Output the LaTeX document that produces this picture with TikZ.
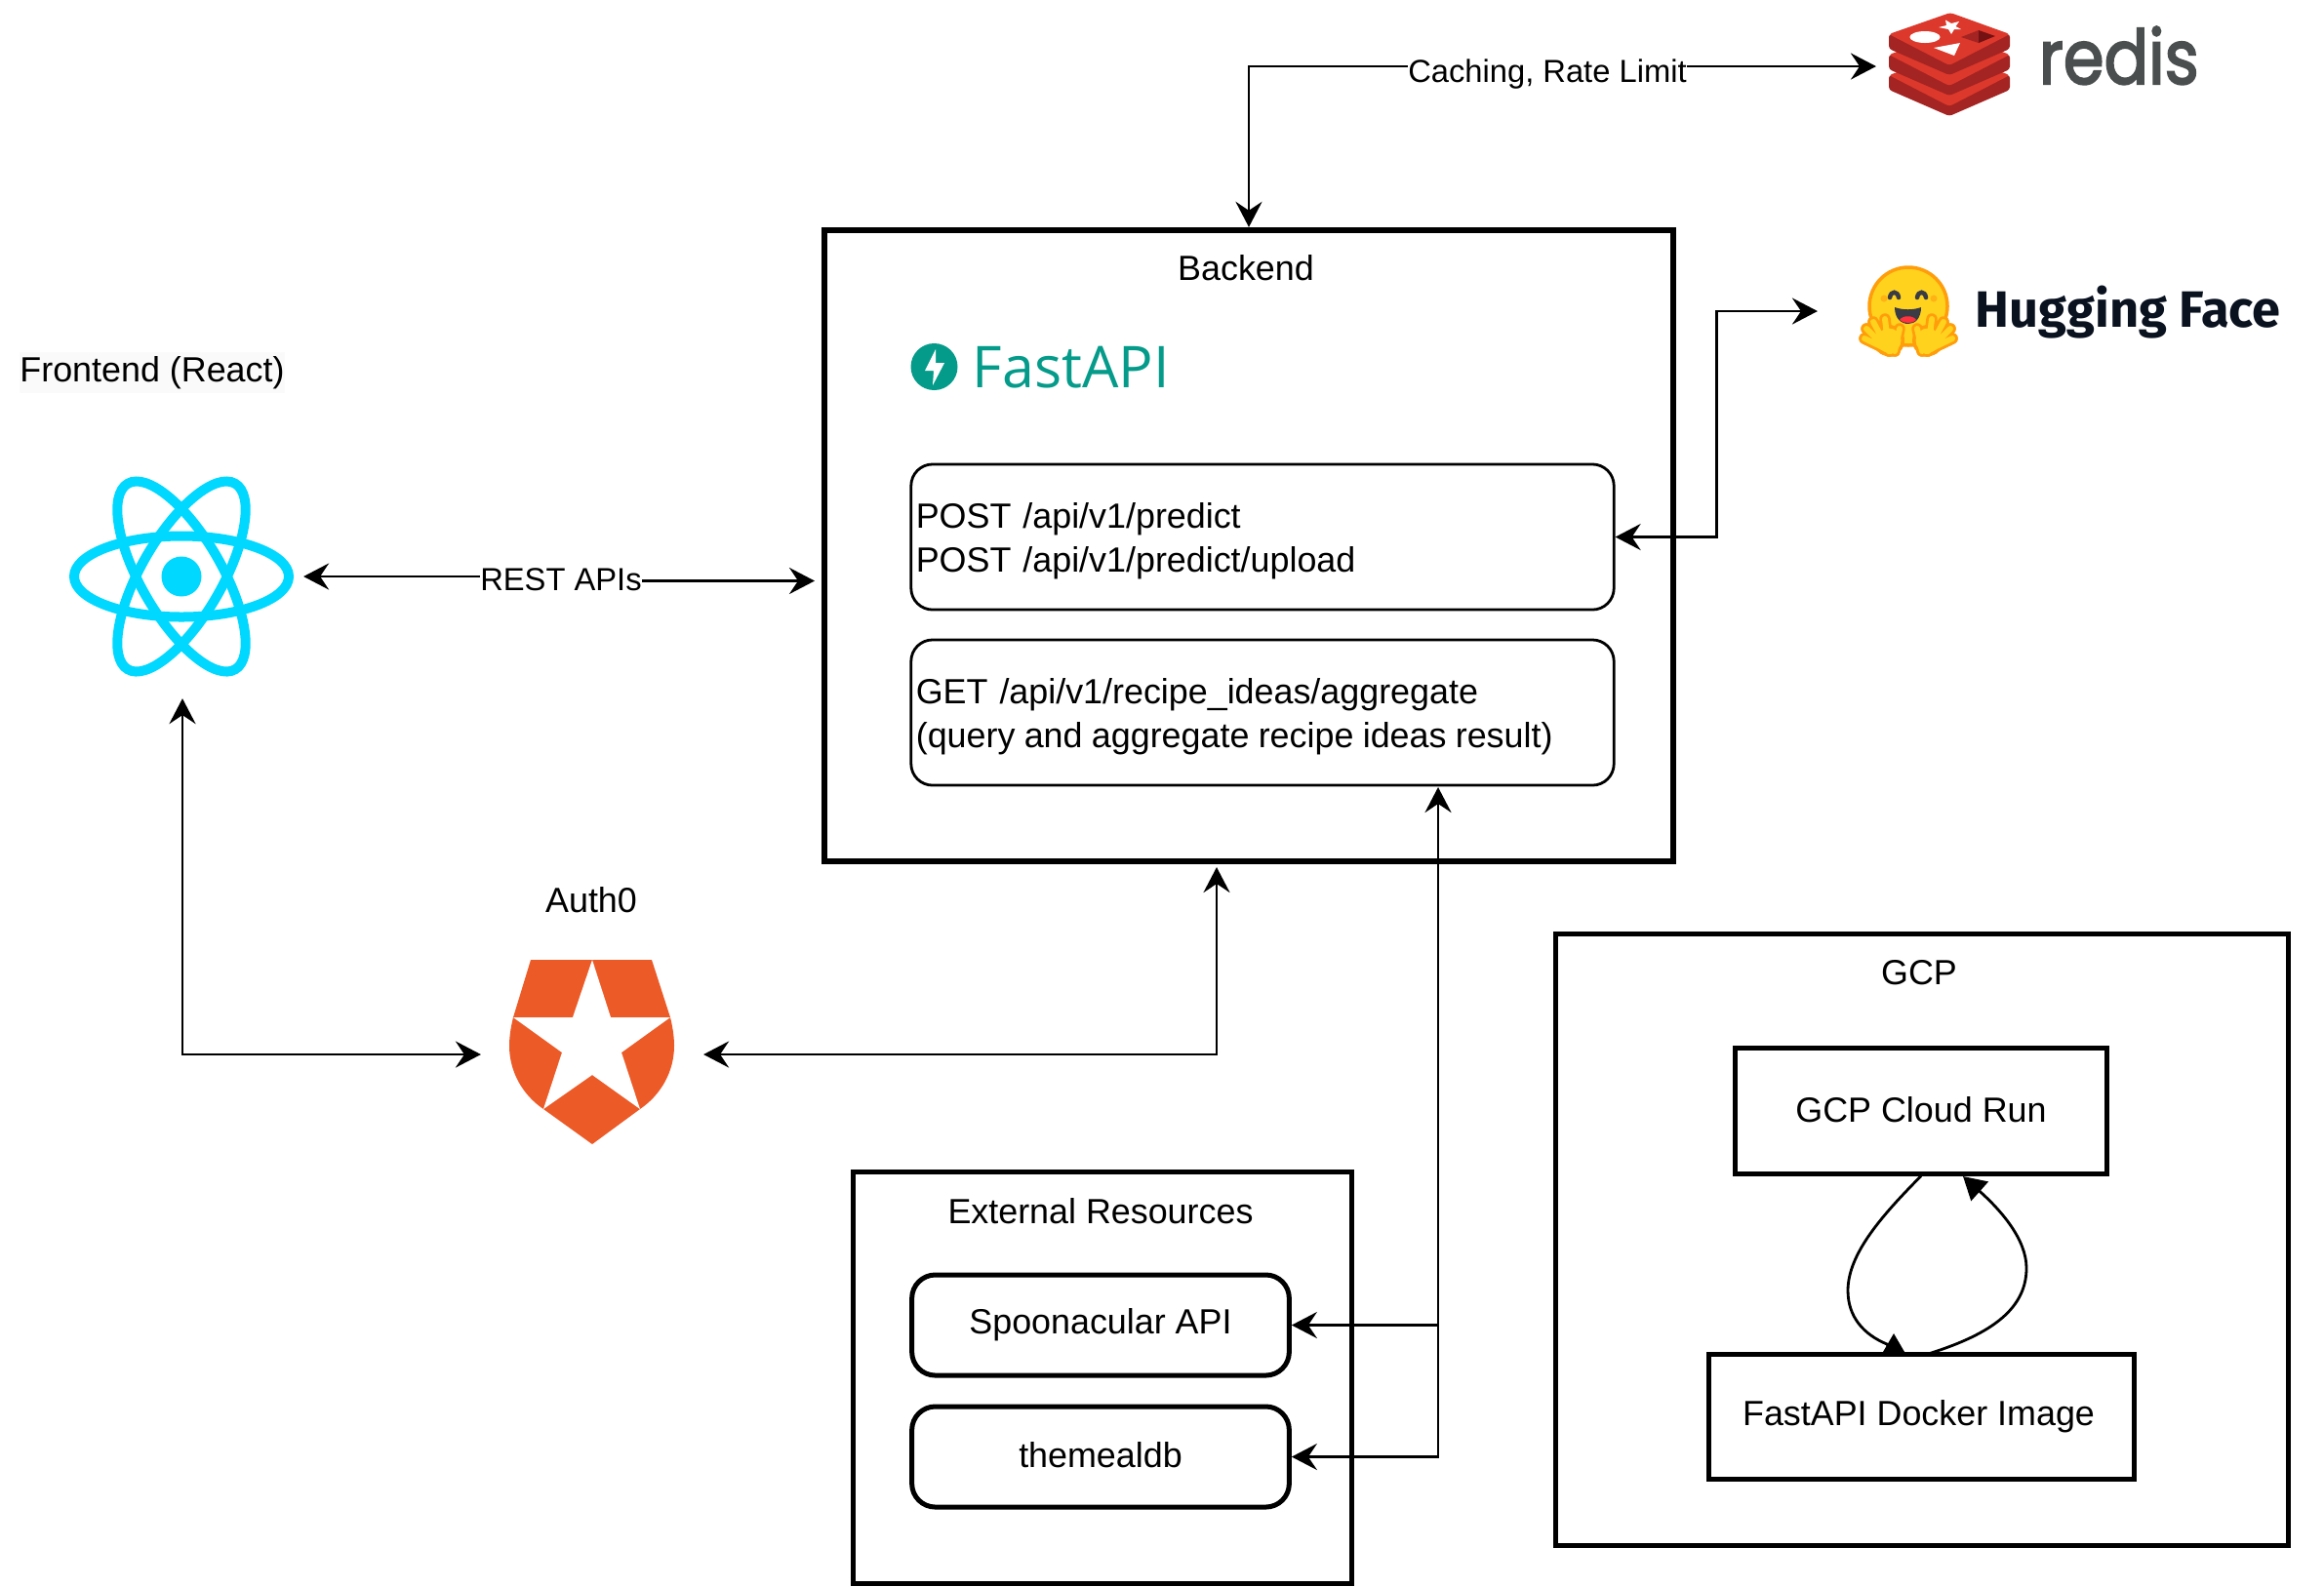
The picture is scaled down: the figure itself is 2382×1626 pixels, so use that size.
\documentclass[tikz,border=0pt]{standalone}
\usepackage{fontspec}
\setmainfont{Liberation Sans}
\newfontfamily\redisfont[FakeBold=2.6]{Poppins}
\newfontfamily\hugfont{Fira Sans}
\newfontfamily\fastfont{Open Sans}
\usetikzlibrary{arrows.meta}
\definecolor{reactcyan}{HTML}{00D8FF}
\definecolor{authorange}{HTML}{EC5A27}
\definecolor{fastteal}{HTML}{059B8A}
\definecolor{redislight}{HTML}{DC382C}
\definecolor{redisdark}{HTML}{A32422}
\definecolor{redishole}{HTML}{741113}
\definecolor{redisgrey}{HTML}{4A4E4F}
\definecolor{hugnavy}{HTML}{0A1220}
\definecolor{hugyellow}{HTML}{FFD21E}
\definecolor{hugorange}{HTML}{FF9D0B}
\definecolor{hugdark}{HTML}{3A3B45}
\definecolor{hugred}{HTML}{FF323D}
\tikzset{
    plainlabel/.style={inner sep=0pt,font=\fontsize{10.2}{12.7}\selectfont},
    linelabel/.style={inner sep=0pt,fill=white,font=\fontsize{9.3}{11}\selectfont},
    iconspot/.style={inner sep=0pt,outer sep=0pt,minimum height=10pt},
    bigbox/.style={draw=black,line width=0.06cm},
    midbox/.style={draw=black,line width=0.05cm,plainlabel},
    routebox/.style={draw=black,line width=0.028cm,rounded corners=0.22cm,plainlabel,text width=7.1cm,inner xsep=0.05cm,align=left,minimum height=1.49cm},
    sourcebox/.style={draw=black,line width=0.05cm,rounded corners=0.24cm,plainlabel,minimum width=3.865cm,minimum height=1.03cm},
    linkline/.style={line width=0.028cm,draw=black},
    bilink/.style={linkline,{Stealth[length=0.26cm,width=0.27cm,inset=0.09cm]}-{Stealth[length=0.26cm,width=0.27cm,inset=0.09cm]}},
    headlink/.style={linkline,-{Stealth[length=0.26cm,width=0.27cm,inset=0.09cm]}},
    taillink/.style={linkline,{Stealth[length=0.26cm,width=0.27cm,inset=0.09cm]}-},
    curvelink/.style={linkline,-{Triangle[length=0.23cm,width=0.26cm]}},
    redislayer/.pic={
        \fill[redisdark,rounded corners=0.03cm] (-62,-5) -- (-62,10) -- (0,37) -- (62,10) -- (62,-5) -- cycle;
        \fill[redislight,rounded corners=0.03cm] (1,-27) -- (-62,-5) -- (0,27) -- (62,-5) -- cycle;
    },
    hughand/.pic={
        \draw[hugorange,line width=0.115cm,line cap=round] (-20,20) -- (-43,-3) (-20,20) -- (-36,-10) (-20,20) -- (-24,-13) (-18,20) -- (-45,7) (-14,20) -- (-9,-3);
        \fill[hugorange] (-20,9) circle [radius=16];
        \draw[hugyellow,line width=0.06cm,line cap=round] (-20,20) -- (-43,-3) (-20,20) -- (-36,-10) (-20,20) -- (-24,-13) (-18,20) -- (-45,7) (-14,20) -- (-9,-3);
        \fill[hugyellow] (-20,9) circle [radius=12.5];
    }
}

\begin{document}
\begin{tikzpicture}[x=0.01cm,y=-0.01cm]
    \useasboundingbox (0,0) rectangle (2382,1626);

    % main boxes
    \node[bigbox,minimum width=8.7cm,minimum height=6.47cm] (backend) at (1280,559.5) {};
    \node[plainlabel] (backendname) at (1277,275) {Backend};
    \node[routebox] (predictroutes) at (1294,550.5) {\rule{0pt}{0.34cm}POST /api/v1/predict\\POST /api/v1/predict/upload};
    \node[routebox] (reciperoutes) at (1294,730.5) {\rule{0pt}{0.34cm}GET /api/v1/recipe\_ideas/aggregate\\{\spaceskip=0.26em (query and aggregate recipe ideas result)}};

    \node[bigbox,line width=0.05cm,minimum width=5.1cm,minimum height=4.21cm] (external) at (1130,1412.5) {};
    \node[plainlabel] (externalname) at (1128,1242) {External Resources};
    \node[sourcebox] (spoonacular) at (1128,1358.5) {Spoonacular API};
    \node[sourcebox] (themealdb) at (1128,1493.5) {\raisebox{0.04cm}{themealdb}};

    \node[bigbox,line width=0.05cm,minimum width=7.5cm,minimum height=6.26cm] (gcp) at (1970,1271) {};
    \node[plainlabel] (gcpname) at (1967,997.5) {GCP};
    \node[midbox,minimum width=3.8cm,minimum height=1.28cm] (cloudrun) at (1969,1139) {\raisebox{0.03cm}{GCP Cloud Run}};
    \node[midbox,minimum width=4.35cm,minimum height=1.27cm] (dockerimage) at (1969.5,1452.5) {\hspace{-0.06cm}\raisebox{-0.03cm}{FastAPI Docker Image}};

    % text beside the logos
    \node[plainlabel,fill=black!2,minimum height=0.42cm] (frontendname) at (156,382) {Frontend (React)};
    \node[plainlabel] (authname) at (606,923) {Auth0};

    % react logo
    \begin{scope}[shift={(186,591)}]
        \draw[reactcyan,line width=0.1cm] (0,0) ellipse [x radius=110,y radius=41.5];
        \draw[reactcyan,line width=0.1cm,rotate=60] (0,0) ellipse [x radius=110,y radius=41.5];
        \draw[reactcyan,line width=0.1cm,rotate=-60] (0,0) ellipse [x radius=110,y radius=41.5];
        \fill[reactcyan] (0,0) circle [radius=20.5];
    \end{scope}
    \node[iconspot,minimum width=2.48cm,minimum height=2.5cm] (reacticon) at (187,591) {};

    % auth0 logo
    \fill[authorange] (544,984) -- (668,984) -- (687,1043) .. controls (690,1055) and (691,1065) .. (691,1072)
        .. controls (691,1098) and (678,1122) .. (656,1137) -- (607,1173) -- (557,1137)
        .. controls (535,1122) and (522,1098) .. (522,1072) .. controls (522,1065) and (523,1055) .. (526,1043) -- cycle;
    \fill[white] (607,984) -- (626,1043) -- (687,1043) -- (637,1079) -- (656,1137) -- (607,1102) -- (557,1137) -- (576,1079) -- (526,1043) -- (587,1043) -- cycle;
    \node[iconspot,minimum width=2.28cm] (authicon) at (607,1081) {};

    % fastapi logo
    \fill[fastteal] (957.5,376) circle [radius=24];
    \fill[white] (959,358) -- (948,380) -- (957,380) -- (956,395) -- (968,372) -- (959,372) -- cycle;
    \node[inner sep=0pt,anchor=base west,text=fastteal,font=\fastfont\fontsize{16.8}{18}\selectfont] (fastname) at (996,397) {FastAPI};

    % redis logo
    \pic at (1998,82) {redislayer};
    \pic at (1998,61) {redislayer};
    \pic at (1998,40) {redislayer};
    \fill[white] (1973,38) ellipse [x radius=15.6,y radius=6];
    \fill[white] (1994,20.5) -- (2000,24) -- (2008,22) -- (2004.5,27) -- (2010,30) -- (2003,30) -- (2000,35) -- (1997,30) -- (1987,28) -- (1995,26) -- cycle;
    \fill[white] (1982,49) -- (2009,44) -- (2003,57) -- cycle;
    \fill[redisdark] (2010,38) -- (2028,31) -- (2028,44) -- cycle;
    \fill[redishole] (2028,31) -- (2045,37) -- (2028,44) -- cycle;
    \node[inner sep=0pt,anchor=base west,text=redisgrey,font=\redisfont\fontsize{22}{24}\selectfont] (redisname) at (2089,86) {\scalebox{0.87}[1]{redis}};
    \node[iconspot,minimum width=1.44cm] (redisicon) at (1995,68) {};

    % hugging face logo
    \pic at (1956,340) {hughand};
    \pic[xscale=-1] at (1956,340) {hughand};
    \draw[hugorange,fill=hugyellow,line width=0.035cm] (1956,314) circle [radius=40];
    \fill[hugorange!60!hugyellow] (1931,306) circle [radius=3.5] (1982,306) circle [radius=3.5];
    \draw[hugdark,line width=0.045cm,line cap=round] (1937,305) .. controls (1938,298) and (1945,298) .. (1946,305);
    \draw[hugdark,line width=0.045cm,line cap=round] (1965,305) .. controls (1966,298) and (1973,298) .. (1974,305);
    \fill[hugdark] (1942,315) .. controls (1950,318) and (1961,318) .. (1969,315) .. controls (1969,326) and (1963,332) .. (1956,332) .. controls (1948,332) and (1942,326) .. (1942,315) -- cycle;
    \fill[hugred] (1947,328) .. controls (1950,323) and (1961,323) .. (1964,328) .. controls (1961,332) and (1951,332) .. (1947,328) -- cycle;
    \pic at (1956,340) {hughand};
    \pic[xscale=-1] at (1956,340) {hughand};
    \node[inner sep=0pt,anchor=base west,text=hugnavy,font=\hugfont\bfseries\fontsize{14.9}{16}\selectfont] (hugname) at (2024,335) {Hugging Face};
    \node[iconspot,minimum width=1.84cm] (hugicon) at (1955,319) {};

    % labels that sit on the lines
    \node[linelabel] (cachinglabel) at (1586,76) {Caching, Rate Limit};
    \node[linelabel] (restlabel) at (575,594) {REST APIs};

    % free ends of the arrows
    \coordinate (backendleft) at (835,595.5);
    \coordinate (backendfoot) at (1247,889);
    \coordinate (recipefoot) at (1474,807);
    \coordinate (runfoot) at (2012,1206);
    \coordinate (dockerhead) at (1973,1389);

    % connectors
    \draw[headlink] (cachinglabel.east |- redisicon.west) -- (redisicon.west);
    \draw[headlink] (cachinglabel.west |- redisicon.west) -| (backend.north);
    \draw[taillink] (reacticon.east) -- (restlabel.west |- reacticon.east);
    \draw[headlink] (restlabel.east |- backendleft) -- (backendleft);
    \draw[bilink] (predictroutes.east) -- ++(104,0) |- (hugicon.west);
    \draw[bilink] (reacticon.south) |- (authicon.west);
    \draw[bilink] (authicon.east) -| (backendfoot);
    \draw[bilink] (recipefoot) |- (themealdb.east);
    \draw[headlink] (recipefoot |- spoonacular.east) -- (spoonacular.east);
    \draw[curvelink] (cloudrun.south) .. controls (1930,1245) and (1894,1285) .. (1894,1323) .. controls (1894,1350) and (1910,1368) .. (1934,1378) -- (1941,1389) -- (1941,1367);
    \draw[curvelink] (dockerhead) .. controls (2035,1370) and (2077,1345) .. (2077,1300) .. controls (2077,1270) and (2050,1240) .. (runfoot);
\end{tikzpicture}
\end{document}
